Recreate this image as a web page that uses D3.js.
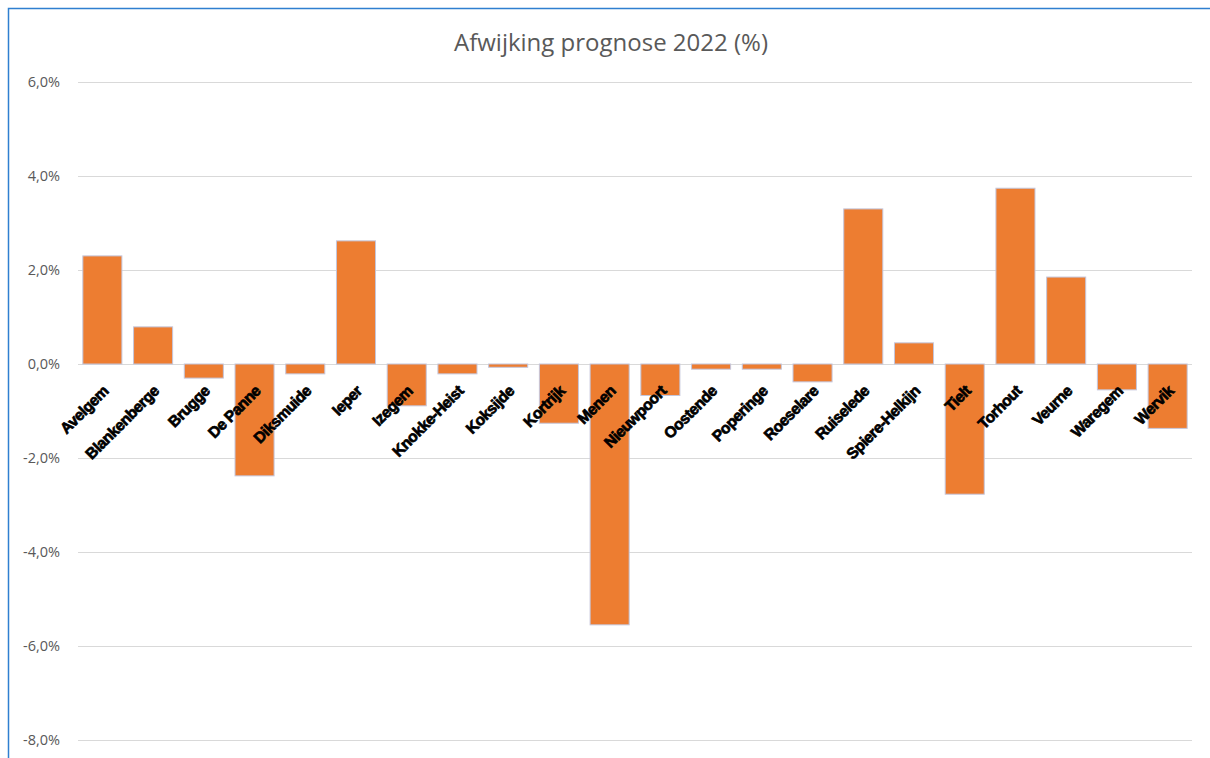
<!DOCTYPE html>
<html><head><meta charset="utf-8">
<script src="https://cdn.jsdelivr.net/npm/d3@7"></script>
<style>body{margin:0;background:#fff}svg{display:block}</style>
</head><body><svg id="c" width="1210" height="758"></svg>
<script>
const categories = ["Avelgem","Blankenberge","Brugge","De Panne","Diksmuide","Ieper","Izegem","Knokke-Heist","Koksijde","Kortrijk","Menen","Nieuwpoort","Oostende","Poperinge","Roeselare","Ruiselede","Spiere-Helkijn","Tielt","Torhout","Veurne","Waregem","Wervik"];
const values = [2.30,0.79,-0.30,-2.38,-0.21,2.62,-0.89,-0.21,-0.07,-1.26,-5.55,-0.67,-0.11,-0.11,-0.38,3.30,0.45,-2.77,3.74,1.85,-0.55,-1.37];
const yTicks = [6,4,2,0,-2,-4,-6,-8];
const title = "Afwijking prognose 2022 (%)";

const svg = d3.select("#c");
svg.append("path").attr("d","M8.5,758 L8.5,8.5 L1210,8.5").attr("fill","none").attr("stroke","#2f7fd0").attr("stroke-width",1.5);

const x = d3.scaleBand().domain(categories).range([77,1193]).paddingInner(0.23).paddingOuter(0.115);
const y = d3.scaleLinear().domain([-8,6]).range([740,82]);

svg.append("text").attr("x",611).attr("y",51).attr("text-anchor","middle")
  .attr("font-family","'Open Sans', sans-serif").attr("font-size",24).attr("fill","#595959").text(title);

const yAxis = d3.axisLeft(y).tickValues(yTicks).tickSize(-(1192-78)).tickPadding(18)
  .tickFormat(d => d3.format(".1f")(d).replace(".",",").replace("−","-") + "%");
const ga = svg.append("g").attr("transform","translate(78,0)").call(yAxis);
ga.select(".domain").remove();
ga.selectAll(".tick line").attr("stroke","#d9d9d9").attr("stroke-width",1);
ga.selectAll(".tick text").attr("fill","#595959").attr("font-size",14.5).attr("font-family","'Open Sans', sans-serif");

svg.append("g").selectAll("rect").data(values).join("rect")
  .attr("x",(d,i)=>x(categories[i]))
  .attr("width",x.bandwidth())
  .attr("y",d=>y(Math.max(0,d)))
  .attr("height",d=>Math.abs(y(d)-y(0)))
  .attr("fill","#ed7d31").attr("stroke","#c4c6dc").attr("stroke-width",1);

svg.append("g").selectAll("text").data(categories).join("text")
  .attr("transform",d=>`translate(${x(d)+x.bandwidth()/2+7},${y(0)+28}) rotate(-45)`)
  .attr("text-anchor","end")
  .attr("font-family","'Liberation Sans', Arial, sans-serif").attr("font-weight","bold")
  .attr("font-size",15.5).attr("letter-spacing","-0.5").attr("fill","#000")
  .attr("stroke","#000").attr("stroke-width",0.7)
  .text(d=>d);
</script></body></html>
